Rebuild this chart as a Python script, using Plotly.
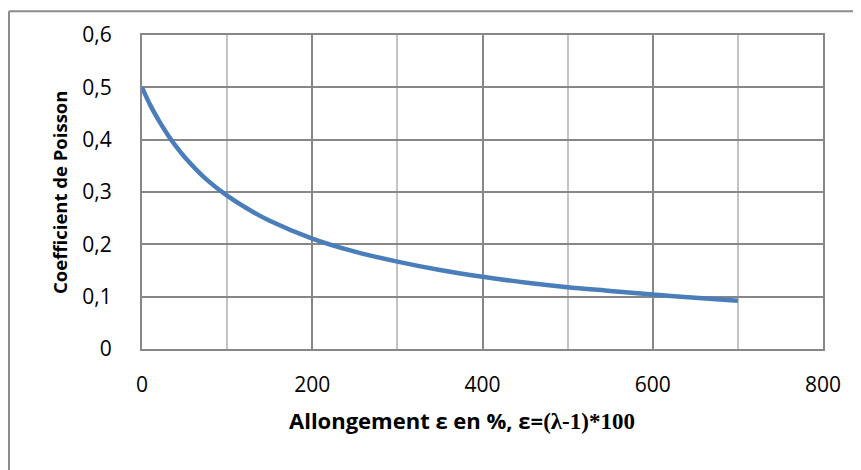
import plotly.graph_objects as go

# Allongement (%) et coefficient de Poisson
allongement = [0, 10, 20, 30, 40, 50, 75, 100, 125, 150, 200, 250, 300,
               350, 400, 450, 500, 550, 600, 650, 700]
poisson = [0.500, 0.465, 0.436, 0.410, 0.387, 0.367, 0.325, 0.293, 0.267,
           0.245, 0.211, 0.186, 0.167, 0.151, 0.138, 0.127, 0.118, 0.111,
           0.104, 0.098, 0.092]

x_ticks = [0, 200, 400, 600, 800]
y_ticks = [0, 0.1, 0.2, 0.3, 0.4, 0.5, 0.6]

grid_dark = "#878787"
grid_light = "#c3c3c3"
font_main = "Open Sans, Liberation Sans, sans-serif"

fig = go.Figure()
fig.add_trace(go.Scatter(
    x=allongement, y=poisson, mode="lines",
    line=dict(color="#4a7ebb", width=4.5, shape="spline", smoothing=0.8),
    showlegend=False,
))

# la page html a une marge de 8 px : on la compense ici
fig.update_layout(
    width=853, height=462,
    margin=dict(l=134, r=38, t=25, b=121),
    paper_bgcolor="white", plot_bgcolor="white",
    separators=", ",
    font=dict(family=font_main, size=21, color="black"),
)

fig.update_xaxes(
    range=[0, 800], tickvals=x_ticks,
    showgrid=True, gridcolor=grid_dark, gridwidth=1.5,
    minor=dict(dtick=100, tick0=0, showgrid=True, gridcolor=grid_light, gridwidth=1.5),
    showline=True, linecolor=grid_dark, linewidth=2, mirror=True,
    zeroline=False, ticks="", ticklabelstandoff=16,
)
fig.update_yaxes(
    range=[0, 0.6], tickvals=y_ticks,
    ticktext=[("%.1f" % v).replace(".", ",") if v else "0" for v in y_ticks],
    showgrid=True, gridcolor=grid_dark, gridwidth=1.5,
    showline=True, linecolor=grid_dark, linewidth=2, mirror=True,
    zeroline=False, ticks="", ticklabelstandoff=24,
)

# titres des axes
fig.add_annotation(
    text="<b>Coefficient de Poisson</b>", textangle=-90,
    xref="paper", yref="paper", x=-0.122, y=0.5,
    xanchor="center", yanchor="middle", showarrow=False,
    font=dict(size=18.5),
)
fig.add_annotation(
    text=("<b>Allongement ε en %, ε=</b>"
          "<span style=\"font-family:'Liberation Serif', serif; font-size:23px\">"
          "<b>(λ-1)*100</b></span>"),
    xref="paper", yref="paper", x=0.47, y=-0.225,
    xanchor="center", yanchor="middle", showarrow=False,
    font=dict(size=22),
)

# cadre extérieur (haut et gauche)
fig.add_shape(type="line", xref="paper", yref="paper",
              x0=-0.1953, x1=1.06, y0=1.076, y1=1.076,
              line=dict(color="#8c8c8c", width=2))
fig.add_shape(type="line", xref="paper", yref="paper",
              x0=-0.1953, x1=-0.1953, y0=1.076, y1=-0.45,
              line=dict(color="#8c8c8c", width=2))

fig.write_html("out.html")
